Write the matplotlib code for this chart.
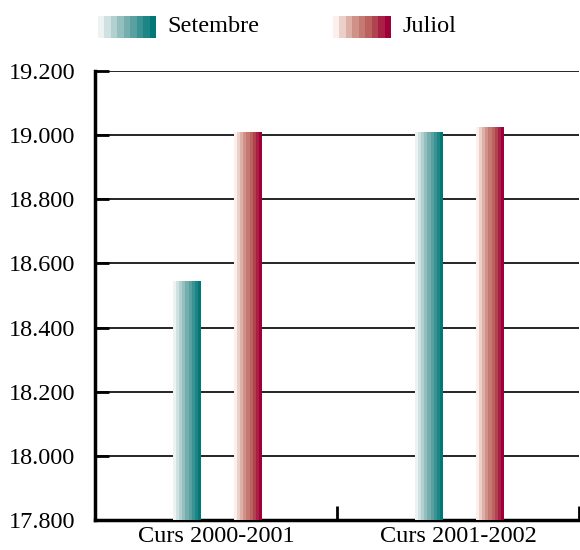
import numpy as np
import matplotlib
matplotlib.use("Agg")
import matplotlib.pyplot as plt
from matplotlib.colors import LinearSegmentedColormap
from matplotlib.ticker import FuncFormatter

categories = ["Curs 2000-2001", "Curs 2001-2002"]
series_names = ["Setembre", "Juliol"]
setembre = [18545, 19007]
juliol = [19007, 19025]

teal = LinearSegmentedColormap.from_list("teal", ["#edf3f3", "#78aeae", "#007878"])
crimson = LinearSegmentedColormap.from_list("crimson", ["#fcf0ec", "#d49a90", "#b85a58", "#a0003a"])
n_steps = 9

plt.rcParams["font.family"] = ["Liberation Serif", "DejaVu Serif"]

fig = plt.figure(figsize=(5.8, 5.5), dpi=100)
ax = fig.add_axes([0.1638, 0.0545, 0.8345, 0.8164])

x = np.arange(len(categories))
width = 0.115
offsets = [-0.12, 0.13]


def gradient_bars(xpos, vals, cmap):
    bars = ax.bar(xpos, vals, width, bottom=0, color="none", edgecolor="none", zorder=3)
    grad = np.linspace(0, 1, n_steps).reshape(1, -1)
    for b in bars:
        x0 = b.get_x()
        x1 = x0 + b.get_width()
        y1 = b.get_height()
        ax.imshow(grad, cmap=cmap, extent=[x0, x1, 17800, y1], aspect="auto",
                  interpolation="nearest", zorder=3)


gradient_bars(x + offsets[0], setembre, teal)
gradient_bars(x + offsets[1], juliol, crimson)

ax.set_xlim(-0.5, 1.5)
ax.set_ylim(17800, 19200)
ax.set_yticks(np.arange(17800, 19201, 200))
ax.yaxis.set_major_formatter(FuncFormatter(lambda v, p: f"{int(v):,}".replace(",", ".")))
ax.yaxis.grid(True, color="black", linewidth=1.2, zorder=1)
ax.set_axisbelow(True)

ax.set_xticks([0.5, 1.5])
ax.set_xticklabels([])
ax.set_xticks(x, minor=True)
ax.set_xticklabels(categories, minor=True, fontsize=17.5)
ax.tick_params(axis="x", which="minor", length=0, pad=4)
ax.tick_params(axis="x", which="major", direction="in", length=10, width=2)
ax.tick_params(axis="y", direction="in", length=10, width=2, labelsize=17.5, pad=14)

for side in ["top", "right"]:
    ax.spines[side].set_visible(False)
for side in ["left", "bottom"]:
    ax.spines[side].set_linewidth(2.5)

# legend with gradient swatches
grad = np.linspace(0, 1, n_steps).reshape(1, -1)
W, H = 580, 550
for (sx, tx), name, cmap in zip([(98, 167), (333, 402)], series_names, [teal, crimson]):
    sw = fig.add_axes([sx / W, 1 - 38 / H, 58 / W, 22 / H])
    sw.imshow(grad, cmap=cmap, aspect="auto", interpolation="nearest")
    sw.axis("off")
    fig.text(tx / W, 1 - 27 / H, name, fontsize=17.5, va="center", ha="left")

fig.savefig("out.png", dpi=100)
